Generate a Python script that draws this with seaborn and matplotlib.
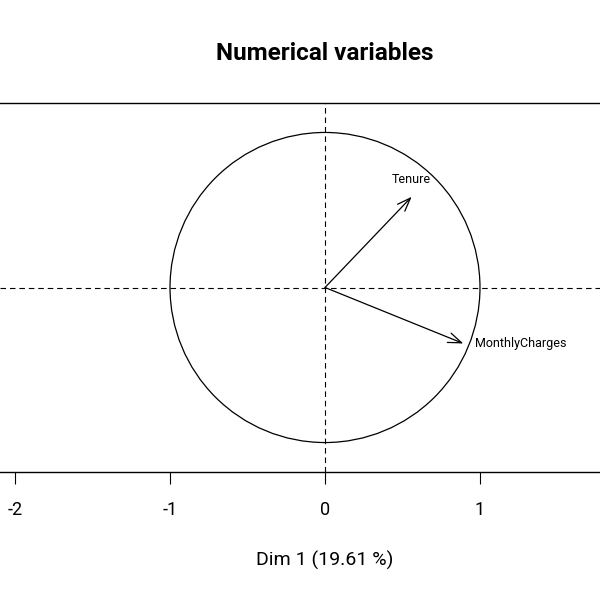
import matplotlib
matplotlib.use("Agg")
import matplotlib.pyplot as plt
from matplotlib.patches import Circle
import seaborn as sns
import pandas as pd

# correlation of each numeric variable with the first two dimensions
variables = ["Tenure", "MonthlyCharges"]
dim1 = [0.559, 0.892]
dim2 = [0.585, -0.361]
x_ticks = [-2, -1, 0, 1]
title = "Numerical variables"
x_label = "Dim 1 (19.61 %)"

coords = pd.DataFrame({"var": variables, "dim1": dim1, "dim2": dim2})

sns.set_theme(style="white")
plt.rcParams["font.family"] = ["Roboto", "DejaVu Sans"]
plt.rcParams["text.color"] = "black"
plt.rcParams["axes.labelcolor"] = "black"
plt.rcParams["xtick.color"] = "black"

fig = plt.figure(figsize=(6, 6), dpi=100)
# plot region is wider than the device, like the cropped R output
ax = fig.add_axes([0, 1 - 472 / 600, 650 / 600, 369 / 600])
ax.set_xlim(-2.097, 2.097)
ax.set_ylim(-1.19, 1.19)

ax.add_patch(Circle((0, 0), 1, fill=False, color="black", lw=0.9))
dash = (0, (5, 3.5))
ax.axhline(0, color="black", lw=0.8, linestyle=dash)
ax.axvline(0, color="black", lw=0.8, linestyle=dash)

for _, row in coords.iterrows():
    ax.annotate("", xy=(row.dim1, row.dim2), xytext=(0, 0),
                arrowprops=dict(arrowstyle="->,head_length=0.8,head_width=0.3",
                                color="black", lw=0.9, shrinkA=0, shrinkB=0))
    if row.dim2 > 0:
        ax.annotate(row["var"], xy=(row.dim1, row.dim2), xytext=(0, 7.5),
                    textcoords="offset points", ha="center", va="bottom", fontsize=9)
    else:
        ax.annotate(row["var"], xy=(row.dim1, row.dim2), xytext=(8.5, 0),
                    textcoords="offset points", ha="left", va="center", fontsize=9)

for side in ["left", "right"]:
    ax.spines[side].set_visible(False)
for side in ["top", "bottom"]:
    ax.spines[side].set_color("black")
    ax.spines[side].set_linewidth(1.0)

ax.set_xticks(x_ticks)
ax.set_xticklabels([str(t) for t in x_ticks])
ax.set_yticks([])
ax.tick_params(axis="x", bottom=True, direction="out", length=8.6, width=0.8,
               color="black", pad=12.5, labelsize=13)
ax.set_xlabel(x_label, fontsize=14, labelpad=23)
ax.set_title(title, fontsize=17.5, fontweight="bold", pad=31)

fig.savefig("out.png", dpi=100)
